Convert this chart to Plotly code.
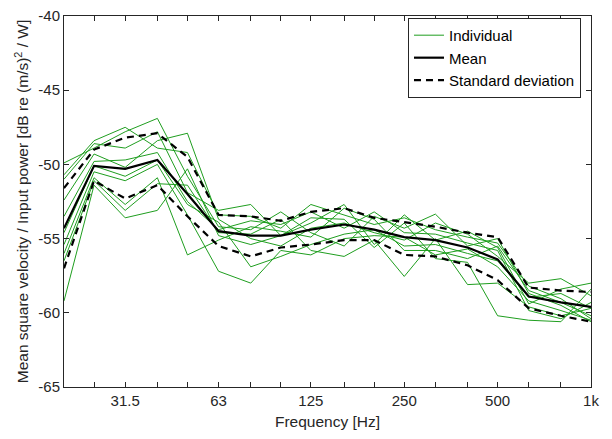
import plotly.graph_objects as go

freqs = [20, 25, 31.5, 40, 50, 63, 80, 100, 125, 160, 200, 250, 315, 400, 500, 630, 800, 1000]

individual = [
    [-50.7, -48.4, -47.5, -48.9, -49.2, -53.4, -53.5, -54.3, -52.7, -53.4, -54.05, -53.6, -54.4, -54.9, -55.3, -58.2, -59.05, -60.4],
    [-49.9, -48.9, -47.8, -46.9, -50.8, -54.2, -54.4, -53.2, -54.6, -55.5, -53.5, -54.3, -53.35, -55.5, -55.0, -58.7, -59.5, -60.6],
    [-51.0, -48.6, -48.9, -47.8, -51.9, -53.1, -52.7, -54.8, -53.95, -52.7, -55.4, -53.4, -55.1, -54.5, -55.6, -59.4, -58.4, -58.0],
    [-52.4, -49.3, -50.2, -48.4, -47.9, -53.7, -55.0, -55.5, -54.3, -53.95, -54.6, -55.1, -53.95, -54.7, -56.2, -58.0, -57.7, -58.85],
    [-53.5, -49.8, -49.7, -49.2, -52.5, -54.4, -53.8, -54.05, -53.2, -54.3, -53.2, -54.6, -54.7, -55.3, -55.8, -59.85, -60.4, -59.3],
    [-54.6, -50.1, -50.8, -49.7, -52.7, -53.9, -56.9, -56.2, -55.4, -54.7, -54.4, -55.5, -55.4, -56.0, -56.5, -58.95, -58.7, -59.7],
    [-55.4, -50.5, -51.1, -50.0, -53.4, -57.2, -58.0, -55.8, -56.1, -55.0, -54.8, -54.9, -56.1, -55.7, -56.9, -59.2, -59.85, -60.5],
    [-56.0, -50.9, -52.7, -50.9, -56.1, -55.1, -54.2, -54.5, -54.9, -52.95, -53.7, -55.8, -55.8, -56.35, -55.5, -58.5, -59.3, -60.2],
    [-56.5, -51.1, -53.1, -51.3, -51.4, -54.6, -54.7, -53.7, -55.8, -56.2, -55.1, -57.55, -55.0, -58.1, -58.0, -59.6, -60.2, -59.7],
    [-59.2, -51.4, -53.6, -53.1, -50.3, -54.8, -55.4, -54.8, -53.6, -53.7, -55.6, -53.95, -56.35, -56.6, -60.2, -60.5, -60.6, -58.4],
]

mean_vals = [-54.3, -50.1, -50.3, -49.7, -52.0, -54.5, -54.8, -54.8, -54.4, -54.05, -54.4, -54.9, -55.1, -55.6, -56.4, -58.9, -59.3, -59.6]
std_upper = [-51.6, -49.0, -48.2, -47.9, -49.5, -53.4, -53.5, -53.8, -53.2, -52.95, -53.6, -53.9, -54.2, -54.6, -54.9, -58.3, -58.5, -58.6]
std_lower = [-57.0, -51.1, -52.3, -51.4, -53.5, -55.5, -56.2, -55.6, -55.4, -55.1, -55.1, -56.1, -56.2, -56.8, -57.8, -59.7, -60.2, -60.6]

x_tick_vals = [20, 25, 31.5, 40, 50, 63, 80, 100, 125, 160, 200, 250, 315, 400, 500, 630, 800, 1000]
x_tick_text = ["", "", "31.5", "", "", "63", "", "", "125", "", "", "250", "", "", "500", "", "", "1k"]
y_tick_vals = [-65, -60, -55, -50, -45, -40]
y_tick_text = ["-65", "-60", "-55", "-50", "-45", "-40"]

GREEN = "#1f9e1f"
AX = "#262626"
FONT = "Liberation Sans, Arial, Helvetica, sans-serif"

fig = go.Figure()
for i, vals in enumerate(individual):
    fig.add_trace(go.Scatter(x=freqs, y=vals, mode="lines",
                             line=dict(color=GREEN, width=1),
                             name="Individual", legendgroup="ind",
                             showlegend=(i == 0)))
fig.add_trace(go.Scatter(x=freqs, y=mean_vals, mode="lines",
                         line=dict(color="black", width=2.2), name="Mean"))
fig.add_trace(go.Scatter(x=freqs, y=std_upper, mode="lines",
                         line=dict(color="black", width=2.2, dash="7px,5px"),
                         name="Standard deviation", legendgroup="std"))
fig.add_trace(go.Scatter(x=freqs, y=std_lower, mode="lines",
                         line=dict(color="black", width=2.2, dash="7px,5px"),
                         name="Standard deviation", legendgroup="std", showlegend=False))

fig.update_layout(
    width=612, height=439,
    margin=dict(l=64, r=21, t=7, b=52),
    paper_bgcolor="white", plot_bgcolor="white",
    font=dict(family=FONT, size=15, color=AX),
    legend=dict(x=0.981, y=0.887, xanchor="right", yanchor="middle",
                bgcolor="white", bordercolor=AX, borderwidth=1,
                font=dict(size=15, color="black"), tracegroupgap=0,
                itemwidth=30),
    showlegend=True,
)
fig.update_xaxes(
    type="log", range=[1.30103, 3.0],
    tickvals=x_tick_vals, ticktext=x_tick_text,
    ticks="inside", ticklen=5, tickcolor=AX,
    showline=True, linecolor=AX, linewidth=1, mirror="ticks",
    showgrid=False, zeroline=False,
    title=dict(text="Frequency [Hz]", standoff=8, font=dict(size=15.5)),
)
fig.update_yaxes(
    range=[-65, -40],
    tickvals=y_tick_vals, ticktext=y_tick_text,
    ticks="inside", ticklen=5, tickcolor=AX,
    showline=True, linecolor=AX, linewidth=1, mirror="ticks",
    showgrid=False, zeroline=False, ticklabeloverflow="allow",
    title=dict(text="Mean square velocity / Input power [dB re (m/s)<sup>2</sup> / W]",
               standoff=5, font=dict(size=15.5)),
)

fig.write_html("out.html")
